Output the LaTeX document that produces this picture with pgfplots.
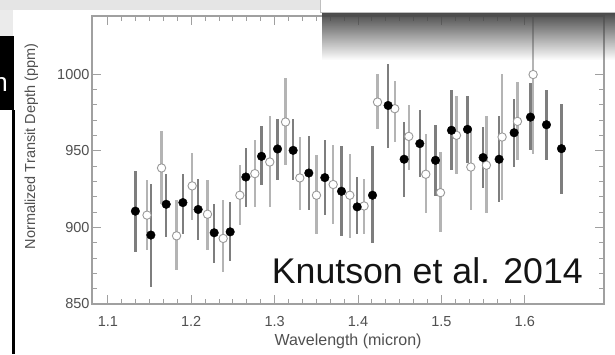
\documentclass[border=0pt]{standalone}
\usepackage{pgfplots}
\pgfplotsset{compat=1.18}
\usepackage{pgfplotstable}
\usepackage{fontspec}
\setmainfont{Liberation Sans}
\usetikzlibrary{fadings}
\definecolor{barA}{HTML}{7E7E7E}
\definecolor{barB}{HTML}{B4B4B4}
\definecolor{openmk}{HTML}{999999}
\definecolor{framec}{HTML}{A0A0A0}
\definecolor{ticklab}{HTML}{505050}

\pgfplotstableread{
x y ep em
1.1330 910.6 26.0 26.5
1.1516 895.0 33.6 33.7
1.1700 915.1 19.9 21.2
1.1900 916.2 18.9 20.2
1.2083 911.7 20.2 20.0
1.2275 896.5 19.1 19.6
1.2467 897.1 19.6 18.9
1.2655 932.9 19.2 19.5
1.2843 946.4 19.6 18.9
1.3035 951.2 19.8 20.4
1.3222 950.3 20.7 19.5
1.3410 935.5 23.9 24.3
1.3602 932.5 24.8 24.5
1.3802 923.6 29.3 29.1
1.3990 913.4 19.5 17.4
1.4174 921.0 31.9 31.5
1.4361 979.6 27.2 27.5
1.4553 944.5 24.3 24.6
1.4741 954.7 21.7 21.8
1.4929 943.8 22.8 23.0
1.5121 963.4 26.5 26.1
1.5313 964.0 21.5 22.0
1.5500 945.6 20.0 20.2
1.5692 944.5 28.0 27.8
1.5872 961.8 22.2 22.4
1.6068 972.0 22.0 21.7
1.6260 967.0 22.9 23.2
1.6440 951.4 29.3 29.3
}\filledtab

\pgfplotstableread{
x y ep em
1.1470 908.0 22.8 22.8
1.1644 938.8 24.1 23.2
1.1824 894.5 23.3 22.4
1.2011 927.1 21.5 22.4
1.2195 908.6 22.2 23.4
1.2383 892.8 25.0 21.7
1.2583 921.0 19.6 19.5
1.2763 935.1 21.7 21.7
1.2942 942.7 29.8 29.3
1.3131 968.8 28.9 28.2
1.3302 932.3 26.7 21.1
1.3502 921.0 26.1 25.0
1.3702 928.0 26.0 26.0
1.3902 921.0 27.2 28.2
1.4073 914.0 17.9 18.0
1.4234 981.8 18.5 17.4
1.4441 977.5 18.0 21.7
1.4609 959.4 20.2 22.1
1.4813 934.7 26.0 25.6
1.4989 922.7 26.5 25.6
1.5181 960.1 25.4 25.0
1.5353 939.4 26.1 28.2
1.5540 940.6 31.9 31.5
1.5728 959.0 41.3 41.2
1.5912 969.2 25.6 25.4
1.6100 999.8 48.0 52.0
}\opentab

\begin{document}
\begin{tikzpicture}
\path[use as bounding box] (0pt,0pt) rectangle (615pt,354pt);
\clip (0pt,0pt) rectangle (615pt,354pt);
\fill[white] (0pt,0pt) rectangle (615pt,354pt);

\begin{axis}[
  at={(92pt,50pt)}, anchor=south west,
  scale only axis, width=512pt, height=288pt,
  xmin=1.081, xmax=1.695, ymin=850, ymax=1038,
  axis line style={framec, line width=1.1pt},
  tick pos=both, tick align=inside,
  major tick length=9pt, minor tick length=5pt,
  every tick/.style={framec, line width=0.9pt},
  xtick={1.1,1.2,1.3,1.4,1.5,1.6},
  xticklabels={1.1,1.2,1.3,1.4,1.5,1.6},
  ytick={850,900,950,1000},
  yticklabels={850,900,950,1000},
  minor x tick num=5, minor y tick num=4,
  ticklabel style={font=\fontsize{14.5}{16}\selectfont, text=ticklab},
  xticklabel style={yshift=-8.5pt},
  yticklabel style={xshift=1pt},
  xlabel={Wavelength (micron)},
  ylabel={Normalized Transit Depth (ppm)},
  xlabel style={font=\fontsize{16}{18}\selectfont, text=ticklab,
    at={(axis description cs:0.5,-0.145)}, anchor=base},
  ylabel style={font=\fontsize{14.5}{16}\selectfont, text=ticklab,
    at={(axis description cs:-0.111,0.547)}, anchor=base},
]
\addplot[only marks, mark=*, mark size=4.2pt,
  mark options={fill=white, draw=openmk, line width=0.9pt},
  error bars/.cd, y dir=both, y explicit, error mark=none,
  error bar style={line width=2.4pt, color=barB}]
  table[x=x, y=y, y error plus=ep, y error minus=em] {\opentab};
\addplot[only marks, mark=*, mark size=4.3pt,
  mark options={fill=black, draw=black},
  error bars/.cd, y dir=both, y explicit, error mark=none,
  error bar style={line width=2.4pt, color=barA}]
  table[x=x, y=y, y error plus=ep, y error minus=em] {\filledtab};
\end{axis}

\node[anchor=base east, inner sep=0pt, text=black!92]
  at (583pt,71pt) {\fontsize{35.7}{40}\selectfont Knutson et al. 2014};

% slide decorations around the chart
\fill[black!10] (0pt,344pt) rectangle (322pt,354pt);
\fill[black!8] (0pt,318pt) rectangle (13pt,344pt);
\fill[black] (0pt,244pt) rectangle (14pt,318pt);
\node[anchor=base east, inner sep=0pt, text=white] at (8pt,262pt)
  {\fontsize{26}{28}\selectfont n};
\fill[black] (11.5pt,0pt) rectangle (15pt,244pt);
\fill[black!72, path fading=south] (322pt,294pt) rectangle (615pt,342pt);
\fill[white] (320pt,342pt) rectangle (615pt,354pt);
\draw[black!25] (320pt,354pt) -- (320pt,342pt) -- (615pt,342pt);
\end{tikzpicture}
\end{document}
